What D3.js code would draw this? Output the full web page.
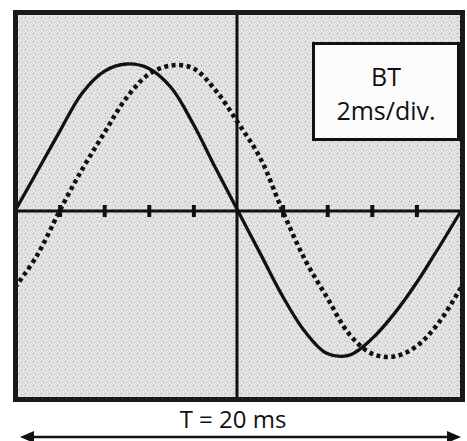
<!DOCTYPE html>
<html>
<head>
<meta charset="utf-8">
<title>Oscillogramme BT 2ms/div</title>
<style>
  body { margin: 0; background: #fff; }
  svg text { font-family: "Open Sans", "Noto Sans", sans-serif; fill: #111; }
</style>
</head>
<body>
<script src="https://d3js.org/d3.v7.min.js"></script>
<script>
// time in ms, one division = 2 ms
var times = d3.range(0, 21);
// solid trace (normalised amplitude)
var solidValues = [0, 0.27, 0.54, 0.80, 0.95, 1.0, 0.97, 0.84, 0.59, 0.29, 0,
                   -0.29, -0.58, -0.82, -0.97, -0.98, -0.87, -0.70, -0.49, -0.25, 0];
// dotted trace, about one division late
var dottedValues = [-0.52, -0.30, 0, 0.28, 0.53, 0.77, 0.93, 0.99, 0.97, 0.82, 0.60,
                    0.36, 0, -0.33, -0.59, -0.84, -0.97, -0.99, -0.92, -0.76, -0.52];
var divTicks = [2, 4, 6, 8, 12, 14, 16, 18];
var boxLines = ["BT", "2ms/div."];
var periodLabel = "T = 20 ms";

var W = 467, H = 441;
var svg = d3.select("body").append("svg")
    .attr("width", W).attr("height", H);

var x = d3.scaleLinear().domain([0, 20]).range([15, 461]);
var y = d3.scaleLinear().domain([-1, 1]).range([358, 64]);

var defs = svg.append("defs");
// speckled screen background
var pat = defs.append("pattern").attr("id", "speck")
    .attr("width", 8).attr("height", 8).attr("patternUnits", "userSpaceOnUse");
pat.append("rect").attr("width", 8).attr("height", 8).attr("fill", "#e3e3e3");
[[1,1,"#8c8c8c"],[5,2,"#b0b0b0"],[3,5,"#999"],[6,6,"#bdbdbd"],[0,4,"#c4c4c4"]].forEach(function(p) {
  pat.append("rect").attr("x", p[0]).attr("y", p[1]).attr("width", 1).attr("height", 1).attr("fill", p[2]);
});
defs.append("clipPath").attr("id", "screen")
  .append("rect").attr("x", 18).attr("y", 15).attr("width", 442).attr("height", 382);

// screen
svg.append("rect")
    .attr("x", 15.5).attr("y", 12.5).attr("width", 447).attr("height", 387)
    .attr("fill", "url(#speck)");

// BT box
var box = svg.append("g");
box.append("rect")
    .attr("x", 313.5).attr("y", 43.5).attr("width", 145).attr("height", 96)
    .attr("fill", "#fbfbfb").attr("stroke", "#111").attr("stroke-width", 3);
box.selectAll("text").data(boxLines).enter().append("text")
    .attr("x", 386).attr("y", function(d, i) { return 86 + i * 34; })
    .attr("text-anchor", "middle")
    .attr("font-size", 25)
    .text(function(d) { return d; });

var plot = svg.append("g").attr("clip-path", "url(#screen)");

// axes of the screen
plot.append("line")
    .attr("x1", 15).attr("x2", 462).attr("y1", y(0)).attr("y2", y(0))
    .attr("stroke", "#111").attr("stroke-width", 3);
plot.append("line")
    .attr("x1", x(10) - 1).attr("x2", x(10) - 1).attr("y1", 12).attr("y2", 400)
    .attr("stroke", "#111").attr("stroke-width", 3);

var gTicks = plot.append("g")
    .attr("transform", "translate(0," + (y(0) - 6) + ")")
    .call(d3.axisBottom(x).tickValues(divTicks).tickSize(12).tickFormat(""));
gTicks.select(".domain").remove();
gTicks.selectAll(".tick line").attr("stroke", "#111").attr("stroke-width", 4);

var line = d3.line()
    .x(function(d) { return x(d[0]); })
    .y(function(d) { return y(d[1]); })
    .curve(d3.curveCatmullRom);

plot.append("path")
    .datum(times.map(function(t, i) { return [t, solidValues[i]]; }))
    .attr("d", line)
    .attr("fill", "none").attr("stroke", "#111").attr("stroke-width", 3.3);

plot.append("path")
    .datum(times.map(function(t, i) { return [t, dottedValues[i]]; }))
    .attr("d", line)
    .attr("fill", "none").attr("stroke", "#111").attr("stroke-width", 4.5)
    .attr("stroke-dasharray", "4 3.5");

// frame
svg.append("rect")
    .attr("x", 15.5).attr("y", 12.5).attr("width", 447).attr("height", 387)
    .attr("fill", "none").attr("stroke", "#1a1a1a").attr("stroke-width", 5);

// period arrow
var ay = 437;
svg.append("line")
    .attr("x1", 28).attr("x2", 452).attr("y1", ay).attr("y2", ay)
    .attr("stroke", "#111").attr("stroke-width", 2.5);
svg.append("path")
    .attr("d", "M20," + ay + "L34," + (ay - 6) + "L34," + (ay + 6) + "Z")
    .attr("fill", "#111");
svg.append("path")
    .attr("d", "M461," + ay + "L447," + (ay - 6) + "L447," + (ay + 6) + "Z")
    .attr("fill", "#111");
svg.append("text")
    .attr("x", 233).attr("y", 428)
    .attr("text-anchor", "middle")
    .attr("font-size", 24)
    .text(periodLabel);
</script>
</body>
</html>
